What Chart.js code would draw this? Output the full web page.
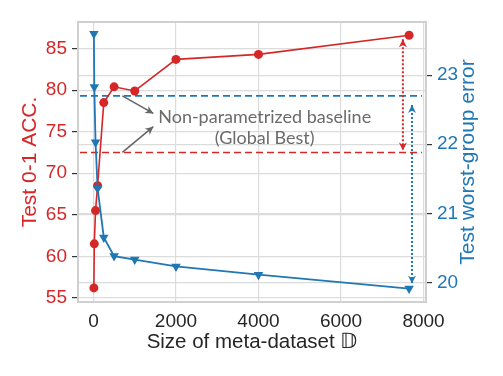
<!DOCTYPE html>
<html>
<head>
<meta charset="utf-8">
<script src="https://cdn.jsdelivr.net/npm/chart.js@4"></script>
<style>
  html, body { margin: 0; padding: 0; background: #fff; }
  canvas { display: block; }
</style>
</head>
<body>
<canvas id="chart" width="503" height="376"></canvas>
<script>
// meta-dataset sizes and the two measured curves
const sizes = [10, 20, 50, 100, 250, 500, 1000, 2000, 4000, 7650];
const accValues = [56.2, 61.5, 65.5, 68.5, 78.5, 80.4, 79.9, 83.7, 84.3, 86.6];
const errValues = [23.6, 22.83, 22.03, 21.36, 20.65, 20.38, 20.33, 20.23, 20.11, 19.91];

// baselines (non-parametrized, global best)
const accBaseline = 72.5;
const errBaseline = 22.7;

const xTicks = [0, 2000, 4000, 6000, 8000];
const accTicks = [55, 60, 65, 70, 75, 80, 85];
const errTicks = [20, 21, 22, 23];

const RED = '#d62728';
const BLUE = '#1f77b4';
const GRID = '#dcdcdc';
const FONT = "'Liberation Sans', Arial, sans-serif";

function arrowHead(ctx, tx, ty, dx, dy, len, half) {
  // filled head with a small notch, tip at (tx,ty), pointing along (dx,dy)
  const n = Math.hypot(dx, dy);
  const ux = dx / n, uy = dy / n;
  const px = -uy, py = ux;
  const bx = tx - ux * len, by = ty - uy * len;
  ctx.beginPath();
  ctx.moveTo(tx, ty);
  ctx.lineTo(bx + px * half, by + py * half);
  ctx.lineTo(tx - ux * len * 0.7, ty - uy * len * 0.7);
  ctx.lineTo(bx - px * half, by - py * half);
  ctx.closePath();
  ctx.fill();
}

function arrow(ctx, x1, y1, x2, y2, opts) {
  ctx.save();
  ctx.strokeStyle = opts.color;
  ctx.fillStyle = opts.color;
  ctx.lineWidth = opts.width;
  ctx.setLineDash(opts.dash || []);
  ctx.beginPath();
  ctx.moveTo(x1, y1);
  ctx.lineTo(x2, y2);
  ctx.stroke();
  ctx.setLineDash([]);
  arrowHead(ctx, x2, y2, x2 - x1, y2 - y1, opts.len, opts.half);
  if (opts.both) arrowHead(ctx, x1, y1, x1 - x2, y1 - y2, opts.len, opts.half);
  ctx.restore();
}

const annotate = {
  id: 'annotate',
  beforeDatasetsDraw(chart) {
    const { ctx, chartArea: a, scales } = chart;
    const yA = scales.yAcc, yE = scales.yErr;
    ctx.save();
    // frame
    ctx.strokeStyle = '#d0d0d0';
    ctx.lineWidth = 2;
    ctx.strokeRect(a.left, a.top, a.right - a.left, a.bottom - a.top);
    // baselines
    ctx.lineWidth = 1.6;
    ctx.setLineDash([7, 4]);
    ctx.strokeStyle = BLUE;
    let y = yE.getPixelForValue(errBaseline);
    ctx.beginPath(); ctx.moveTo(a.left + 2, y); ctx.lineTo(a.right - 4, y); ctx.stroke();
    ctx.strokeStyle = RED;
    y = yA.getPixelForValue(accBaseline);
    ctx.beginPath(); ctx.moveTo(a.left + 2, y); ctx.lineTo(a.right - 4, y); ctx.stroke();
    ctx.restore();
  },
  afterDatasetsDraw(chart) {
    const { ctx, chartArea: a, scales } = chart;
    const x = scales.x, yA = scales.yAcc, yE = scales.yErr;
    const last = sizes.length - 1;

    // label text
    ctx.save();
    ctx.fillStyle = '#6b6b6b';
    ctx.font = "18px Lato, 'Open Sans', sans-serif";
    ctx.textAlign = 'center';
    ctx.textBaseline = 'middle';
    const tx = x.getPixelForValue(4150);
    ctx.fillText('Non-parametrized baseline', tx, yA.getPixelForValue(76.8));
    ctx.fillText('(Global Best)', tx, yA.getPixelForValue(74.2));
    ctx.restore();

    // grey pointers from the baselines to the label
    const gray = { color: '#666', width: 1.6, len: 8, half: 4 };
    const sx = x.getPixelForValue(700), ex = x.getPixelForValue(1450);
    arrow(ctx, sx, yE.getPixelForValue(errBaseline), ex, yA.getPixelForValue(77.2), gray);
    arrow(ctx, sx, yA.getPixelForValue(accBaseline), ex, yA.getPixelForValue(75.6), gray);

    // dotted gap arrows
    const rx = x.getPixelForValue(7500);
    arrow(ctx, rx, yA.getPixelForValue(accValues[last]) + 4, rx, yA.getPixelForValue(accBaseline) - 2,
      { color: RED, width: 2, dash: [2, 2], len: 8, half: 4, both: true });
    const bx = x.getPixelForValue(7720);
    arrow(ctx, bx, yE.getPixelForValue(errBaseline) + 9, bx, yE.getPixelForValue(errValues[last]) - 5,
      { color: BLUE, width: 2, dash: [2, 2], len: 8, half: 4, both: true });
  },
  afterDraw(chart) {
    // right axis title reads bottom-to-top
    const { ctx, chartArea: a } = chart;
    ctx.save();
    ctx.translate(chart.width - 35, (a.top + a.bottom) / 2);
    ctx.rotate(-Math.PI / 2);
    ctx.fillStyle = BLUE;
    ctx.font = '21px ' + FONT;
    ctx.textAlign = 'center';
    ctx.textBaseline = 'middle';
    ctx.fillText('Test worst-group error', 0, 0);
    ctx.restore();
  }
};

new Chart(document.getElementById('chart'), {
  type: 'line',
  data: {
    datasets: [
      {
        label: 'Test worst-group error',
        data: sizes.map((s, i) => ({ x: s, y: errValues[i] })),
        yAxisID: 'yErr',
        borderColor: BLUE,
        backgroundColor: BLUE,
        borderWidth: 1.8,
        pointStyle: 'triangle',
        rotation: 180,
        pointRadius: 5.5,
        pointBorderWidth: 0,
        order: 0
      },
      {
        label: 'Test 0-1 ACC.',
        data: sizes.map((s, i) => ({ x: s, y: accValues[i] })),
        yAxisID: 'yAcc',
        borderColor: RED,
        backgroundColor: RED,
        borderWidth: 1.6,
        pointRadius: 4.5,
        pointBorderWidth: 0,
        order: 1
      }
    ]
  },
  options: {
    responsive: false,
    animation: false,
    devicePixelRatio: 1,
    layout: { padding: { top: 22, left: 0, right: 0, bottom: 0 } },
    plugins: {
      legend: { display: false },
      tooltip: { enabled: false }
    },
    scales: {
      x: {
        type: 'linear',
        min: -375,
        max: 8060,
        afterBuildTicks: s => { s.ticks = xTicks.map(v => ({ value: v })); },
        afterFit: s => { s.height = 74; },
        grid: { color: GRID, lineWidth: 1.2, drawTicks: false },
        border: { display: false },
        ticks: { color: '#262626', font: { family: FONT, size: 19 }, padding: 8, maxRotation: 0,
                 callback: v => String(v) },
        title: {
          display: true,
          text: 'Size of meta-dataset 𝔻',
          color: '#262626',
          font: { family: FONT, size: 20.5 },
          padding: { top: 0, bottom: 21 }
        }
      },
      yAcc: {
        position: 'left',
        min: 54.5,
        max: 88.2,
        afterBuildTicks: s => { s.ticks = accTicks.map(v => ({ value: v })); },
        afterFit: s => { s.width = 78; },
        grid: { color: GRID, lineWidth: 1.2, tickColor: '#333', tickLength: 6 },
        border: { display: false },
        ticks: { color: RED, font: { family: FONT, size: 19 }, padding: 5 },
        title: {
          display: true,
          text: 'Test 0-1 ACC.',
          color: RED,
          font: { family: FONT, size: 21 },
          padding: { top: 18, bottom: 0 }
        }
      },
      yErr: {
        position: 'right',
        min: 19.715,
        max: 23.77,
        afterBuildTicks: s => { s.ticks = errTicks.map(v => ({ value: v })); },
        afterFit: s => { s.width = 77; },
        grid: { color: GRID, lineWidth: 1.2, tickColor: '#333', tickLength: 6, drawOnChartArea: true },
        border: { display: false },
        ticks: { color: BLUE, font: { family: FONT, size: 19 }, padding: 5 }
      }
    }
  },
  plugins: [annotate]
});
</script>
</body>
</html>
